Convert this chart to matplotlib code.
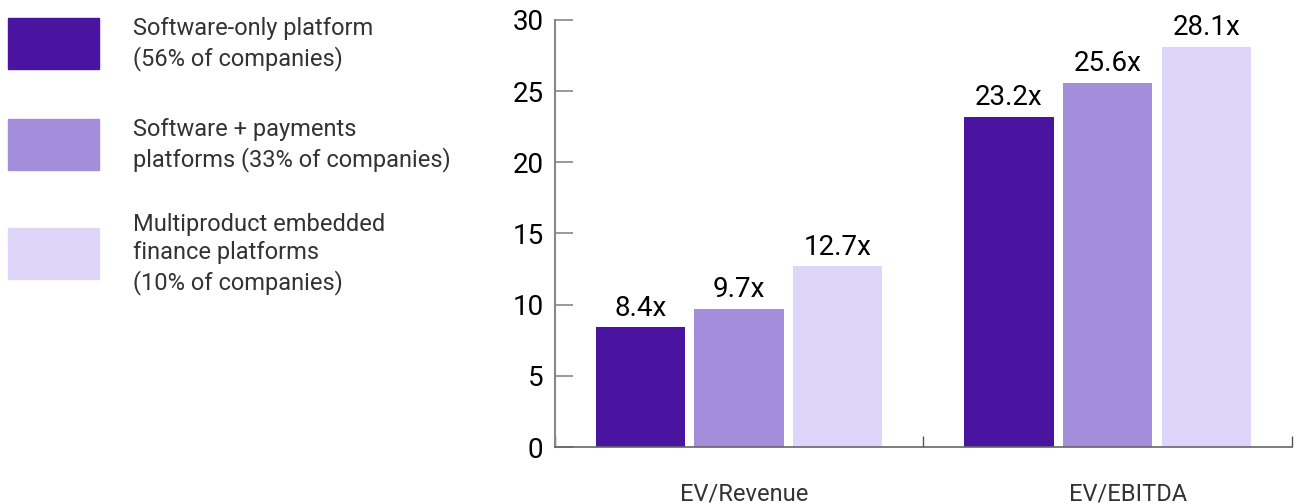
import numpy as np
import matplotlib.pyplot as plt
from matplotlib.patches import Rectangle

plt.rcParams['font.family'] = ['Roboto', 'DejaVu Sans']

# donnees du graphique
categories = ['EV/Revenue', 'EV/EBITDA']
series_names = ['Software-only platform\n(56% of companies)',
                'Software + payments\nplatforms (33% of companies)',
                'Multiproduct embedded\nfinance platforms\n(10% of companies)']
software_only = [8.4, 23.2]
software_payments = [9.7, 25.6]
multiproduct = [12.7, 28.1]
colors = ['#4b14a0', '#a48edc', '#dfd5fb']

fig = plt.figure(figsize=(12.96, 5.03), dpi=100)
ax = fig.add_axes([0.428, 0.1113, 0.569, 0.849])

x = np.arange(len(categories))
largeur = 0.242
decal = 0.268
for i, vals in enumerate([software_only, software_payments, multiproduct]):
    barres = ax.bar(x + (i - 1) * decal, vals, largeur, color=colors[i])
    ax.bar_label(barres, labels=[f'{v}x' for v in vals], padding=4, fontsize=20, color='black')

ax.set_xlim(-0.5, 1.5)
ax.set_ylim(0, 30)
ax.set_yticks([0, 5, 10, 15, 20, 25, 30])
ax.tick_params(axis='y', direction='in', length=13, width=1.2, color='#888888', labelsize=20, pad=8)
ax.set_xticks([-0.5, 0.5, 1.5])
ax.set_xticklabels([])
ax.tick_params(axis='x', direction='in', length=8, width=1, color='#555555')
ax.spines['top'].set_visible(False)
ax.spines['right'].set_visible(False)
ax.spines['left'].set_color('#888888')
ax.spines['left'].set_linewidth(1.5)
ax.spines['bottom'].set_color('#666666')
ax.spines['bottom'].set_linewidth(1.2)

# etiquettes des categories, un peu sous l'axe
trans = ax.get_xaxis_transform()
for xi, cat, dx in zip(x, categories, [0.015, 0.055]):
    ax.text(xi + dx, -0.11, cat, transform=trans, ha='center', va='center', fontsize=17, color='#333333')

# legende faite a la main a gauche, texte centre sur chaque carre
y_haut = [18, 119, 228]
for nom, c, yh in zip(series_names, colors, y_haut):
    fig.add_artist(Rectangle((8 / 1296, 1 - (yh + 51) / 503), 91 / 1296, 51 / 503,
                             transform=fig.transFigure, color=c))
    fig.text(133 / 1296, 1 - (yh + 26) / 503, nom, ha='left', va='center', fontsize=17,
             color='#333333', linespacing=1.3)

fig.savefig('out.png', dpi=100)
